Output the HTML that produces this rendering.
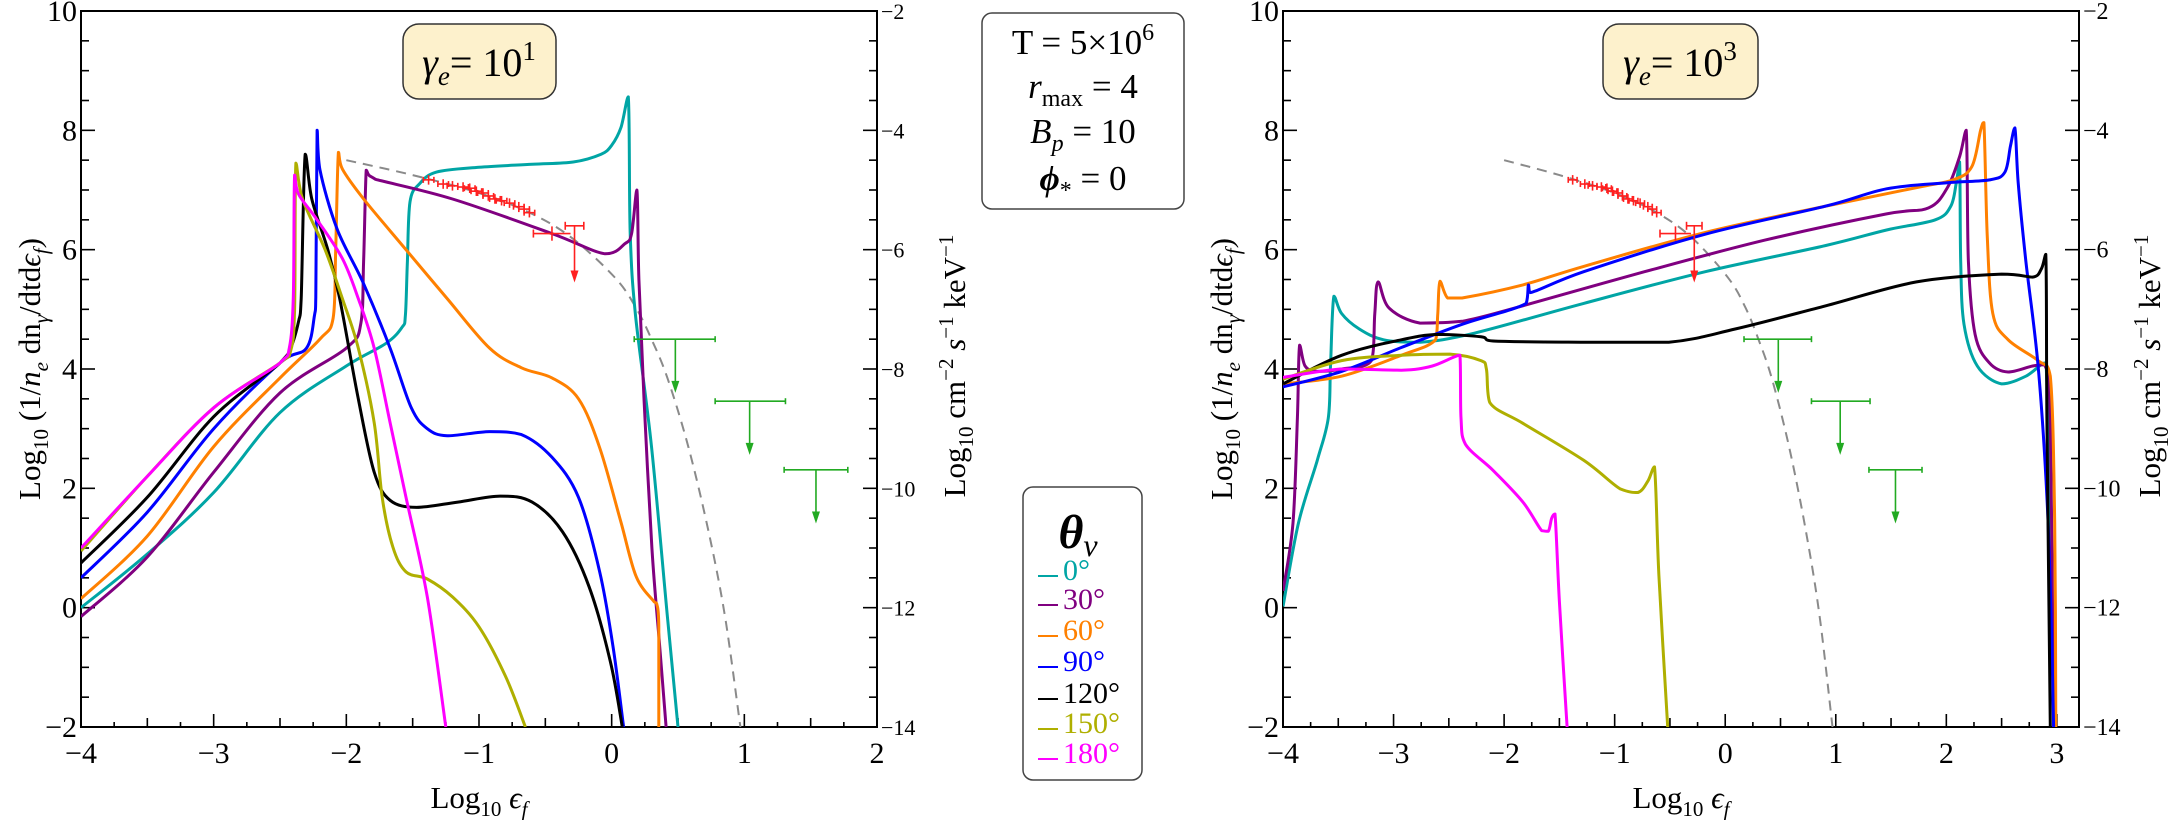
<!DOCTYPE html>
<html><head><meta charset="utf-8">
<style>
html,body{margin:0;padding:0;background:#fff;}
svg{display:block;font-family:"Liberation Serif",serif;}
</style></head>
<body>
<svg id="fig" width="2170" height="820" viewBox="0 0 2170 820" xmlns="http://www.w3.org/2000/svg">
<defs>
<clipPath id="clipL"><rect x="81" y="11" width="796" height="716"/></clipPath>
<clipPath id="clipR"><rect x="1283" y="11" width="796" height="716"/></clipPath>
</defs>
<g id="root"></g>
<g>
<text transform="translate(40,369) rotate(-90)" text-anchor="middle" font-size="31">Log<tspan font-size="21" dy="8">10</tspan><tspan dy="-8"> (1/</tspan><tspan font-style="italic">n</tspan><tspan font-size="21" font-style="italic" dy="8">e</tspan><tspan dy="-8"> dn</tspan><tspan font-size="21" font-style="italic" dy="8">γ</tspan><tspan dy="-8">/dtd</tspan><tspan font-style="italic">ϵ</tspan><tspan font-size="21" font-style="italic" dy="8">f</tspan><tspan dy="-8">)</tspan></text>
</g>
<g>
<text transform="translate(965,366) rotate(-90)" text-anchor="middle" font-size="31">Log<tspan font-size="21" dy="8">10</tspan><tspan dy="-8"> cm</tspan><tspan font-size="21" dy="-12">−2</tspan><tspan dy="12"> </tspan><tspan font-style="italic">s</tspan><tspan font-size="21" dy="-12">−1</tspan><tspan dy="12"> keV</tspan><tspan font-size="21" dy="-12">−1</tspan></text>
</g>
<g>
<text transform="translate(1232,369) rotate(-90)" text-anchor="middle" font-size="31">Log<tspan font-size="21" dy="8">10</tspan><tspan dy="-8"> (1/</tspan><tspan font-style="italic">n</tspan><tspan font-size="21" font-style="italic" dy="8">e</tspan><tspan dy="-8"> dn</tspan><tspan font-size="21" font-style="italic" dy="8">γ</tspan><tspan dy="-8">/dtd</tspan><tspan font-style="italic">ϵ</tspan><tspan font-size="21" font-style="italic" dy="8">f</tspan><tspan dy="-8">)</tspan></text>
</g>
<g>
<text transform="translate(2160,366) rotate(-90)" text-anchor="middle" font-size="31">Log<tspan font-size="21" dy="8">10</tspan><tspan dy="-8"> cm</tspan><tspan font-size="21" dy="-12">−2</tspan><tspan dy="12"> </tspan><tspan font-style="italic">s</tspan><tspan font-size="21" dy="-12">−1</tspan><tspan dy="12"> keV</tspan><tspan font-size="21" dy="-12">−1</tspan></text>
</g>
<g><text x="479" y="808" text-anchor="middle" font-size="31">Log<tspan font-size="21" dy="8">10</tspan><tspan dy="-8"> </tspan><tspan font-style="italic">ϵ</tspan><tspan font-size="21" font-style="italic" dy="8">f</tspan></text></g>
<g><text x="1681" y="808" text-anchor="middle" font-size="31">Log<tspan font-size="21" dy="8">10</tspan><tspan dy="-8"> </tspan><tspan font-style="italic">ϵ</tspan><tspan font-size="21" font-style="italic" dy="8">f</tspan></text></g>

<g>
<rect x="403" y="24" width="153" height="75" rx="16" fill="#fdf1cc" stroke="#333" stroke-width="1.5"/>
<text x="479" y="76" text-anchor="middle" font-size="40"><tspan font-style="italic">γ</tspan><tspan font-size="27" font-style="italic" dy="9">e</tspan><tspan dy="-9">= 10</tspan><tspan font-size="27" dy="-16">1</tspan></text>
</g>
<g>
<rect x="1603" y="24" width="155" height="75" rx="16" fill="#fdf1cc" stroke="#333" stroke-width="1.5"/>
<text x="1680" y="76" text-anchor="middle" font-size="40"><tspan font-style="italic">γ</tspan><tspan font-size="27" font-style="italic" dy="9">e</tspan><tspan dy="-9">= 10</tspan><tspan font-size="27" dy="-16">3</tspan></text>
</g>
<g>
<rect x="982" y="13" width="202" height="196" rx="10" fill="#fff" stroke="#444" stroke-width="1.5"/>
<text x="1083" y="54" text-anchor="middle" font-size="35">T = 5×10<tspan font-size="24" dy="-14">6</tspan></text>
<text x="1083" y="98" text-anchor="middle" font-size="35"><tspan font-style="italic">r</tspan><tspan font-size="24" dy="8">max</tspan><tspan dy="-8"> = 4</tspan></text>
<text x="1083" y="143" text-anchor="middle" font-size="35"><tspan font-style="italic">B</tspan><tspan font-size="24" font-style="italic" dy="8">p</tspan><tspan dy="-8"> = 10</tspan></text>
<text x="1083" y="190" text-anchor="middle" font-size="35"><tspan font-style="italic" font-weight="bold">ϕ</tspan><tspan font-size="24" dy="8">*</tspan><tspan dy="-8"> = 0</tspan></text>
</g>
<g id="legend">
<rect x="1023" y="487" width="119" height="293" rx="10" fill="#fff" stroke="#444" stroke-width="1.5"/>
<text x="1078" y="548" text-anchor="middle" font-size="48" font-weight="bold" font-style="italic">θ<tspan font-size="32" font-weight="normal" dy="8">v</tspan></text>
</g>
</svg>
<script>
// ---------- data ----------
const seriesNames = ["0°","30°","60°","90°","120°","150°","180°"];
const seriesColors = ["#00a5a5","#800080","#ff8000","#0000ff","#000000","#afaf00","#ff00ff"];
// left panel (gamma_e = 10^1)
const L0x=[-4,-3.5,-3,-2.5,-2,-1.7,-1.58,-1.555,-1.54,-1.52,-1.45,-1.32,-1.0,-0.6,-0.29,-0.08,0.0,0.07,0.125,0.14,0.18,0.30,0.42,0.5];
const L0y=[0,0.9,1.93,3.27,4.05,4.43,4.7,4.9,5.8,6.8,7.1,7.3,7.38,7.43,7.47,7.6,7.75,8.05,8.56,6.27,4.9,2.7,-0.15,-2];
const L1x=[-4,-3.5,-3,-2.5,-2,-1.89,-1.87,-1.85,-1.83,-1.78,-1.2,-0.45,-0.05,0.1,0.15,0.19,0.205,0.244,0.303,0.362,0.41];
const L1y=[-0.15,0.85,2.27,3.6,4.35,4.77,5.8,7.33,7.25,7.18,6.85,6.27,5.93,6.1,6.27,7.0,5.5,3.5,1.0,-0.65,-2];
const L2x=[-4,-3.5,-3,-2.5,-2.2,-2.1,-2.08,-2.06,-2.03,-1.87,-1.55,-1.24,-0.92,-0.68,-0.45,-0.25,-0.09,0.07,0.185,0.32,0.34,0.355,0.355];
const L2y=[0.15,1.2,2.7,3.85,4.5,4.85,6.0,7.63,7.35,6.85,6.0,5.18,4.35,4.02,3.85,3.5,2.68,1.43,0.52,0.1,0.06,-0.3,-2];
const L3x=[-4,-3.5,-3,-2.5,-2.3,-2.24,-2.23,-2.22,-2.2,-2.07,-1.87,-1.67,-1.51,-1.39,-1.24,-0.92,-0.68,-0.45,-0.25,-0.09,0.01,0.09];
const L3y=[0.5,1.6,3.0,4.1,4.35,4.9,5.2,8.0,7.35,6.35,5.43,4.35,3.35,3.0,2.88,2.95,2.9,2.52,1.85,0.6,-0.65,-2];
const L4x=[-4,-3.5,-3,-2.5,-2.42,-2.36,-2.34,-2.31,-2.26,-2.14,-2.05,-1.91,-1.79,-1.67,-1.47,-1.16,-0.84,-0.6,-0.37,-0.17,-0.01,0.08];
const L4y=[0.75,1.85,3.2,4.1,4.35,4.8,5.18,7.6,6.85,6.0,5.18,3.5,2.27,1.8,1.68,1.77,1.87,1.77,1.27,0.35,-0.9,-2];
const L5x=[-4,-3.5,-3,-2.5,-2.42,-2.39,-2.38,-2.33,-2.16,-2.03,-1.91,-1.79,-1.73,-1.65,-1.55,-1.39,-1.2,-1.0,-0.8,-0.65];
const L5y=[0.95,2.2,3.35,4.1,4.3,5.0,7.45,6.85,6.0,5.18,4.35,3.1,1.85,1.02,0.6,0.48,0.18,-0.32,-1.15,-2];
const L6x=[-4,-3.5,-3,-2.5,-2.43,-2.4,-2.39,-2.36,-2.22,-2.03,-1.91,-1.79,-1.67,-1.55,-1.39,-1.25];
const L6y=[1.0,2.2,3.35,4.1,4.35,5.2,7.25,6.93,6.5,5.85,5.18,4.35,3.1,1.85,0.18,-2];
// right panel (gamma_e = 10^3)
const R0x=[-4,-3.86,-3.69,-3.59,-3.57,-3.54,-3.47,-3.31,-3.09,-2.76,-2.27,-1.28,-0.18,0.91,1.46,1.9,2.04,2.09,2.12,2.13,2.16,2.28,2.5,2.72,2.89,2.91,2.95,2.98];
const R0y=[0.02,1.42,2.47,3.18,4.05,5.22,4.93,4.67,4.49,4.45,4.6,5.1,5.63,6.07,6.33,6.5,6.73,7.12,7.47,5.8,4.75,4.05,3.75,3.88,4.1,3.79,0.54,-2];
const R1x=[-4,-3.91,-3.87,-3.85,-3.8,-3.69,-3.47,-3.2,-3.17,-3.14,-3.04,-2.76,-2.38,-1.83,-0.73,0.36,1.46,1.84,2.01,2.12,2.18,2.2,2.26,2.39,2.56,2.78,2.89,2.94,2.97];
const R1y=[0.28,1.42,3.18,4.4,4.05,3.96,4.0,4.14,4.93,5.46,5.02,4.77,4.8,5.06,5.63,6.16,6.6,6.7,7.04,7.56,8.0,5.8,4.58,4.1,3.95,4.05,4.07,3.18,-2];
const R2x=[-4,-3.47,-2.93,-2.62,-2.6,-2.58,-2.51,-2.38,-1.83,-1.28,-0.18,0.91,1.73,2.06,2.23,2.31,2.34,2.37,2.42,2.56,2.83,2.94,2.98,2.99];
const R2y=[3.75,3.88,4.23,4.49,4.93,5.47,5.19,5.19,5.41,5.72,6.29,6.73,7.04,7.17,7.39,8.0,8.13,6.25,4.93,4.49,4.14,3.88,1.42,-2];
const R3x=[-4,-3.47,-2.93,-2.38,-1.8,-1.78,-1.76,-1.28,-0.18,0.91,1.46,2.01,2.39,2.53,2.58,2.62,2.65,2.72,2.83,2.91,2.95,2.97];
const R3y=[3.7,3.96,4.36,4.75,5.1,5.41,5.28,5.63,6.26,6.73,7.02,7.12,7.17,7.3,7.74,8.04,7.12,5.8,4.05,1.86,-0.33,-2];
const R4x=[-4,-3.47,-2.93,-2.6,-2.21,-2.1,-1.28,-0.51,0.09,0.91,1.73,2.5,2.78,2.86,2.9,2.91,2.94];
const R4y=[3.75,4.23,4.49,4.58,4.54,4.47,4.45,4.45,4.67,5.06,5.46,5.59,5.54,5.68,5.92,3.18,-2];
const R5x=[-4,-3.47,-2.93,-2.49,-2.21,-2.16,-2.13,-1.83,-1.28,-0.95,-0.79,-0.7,-0.64,-0.6,-0.52];
const R5y=[3.83,4.14,4.23,4.25,4.14,4.0,3.44,3.09,2.47,1.99,1.93,2.12,2.36,0.54,-2];
const R6x=[-4,-3.47,-2.93,-2.65,-2.4,-2.39,-2.35,-2.1,-1.83,-1.66,-1.6,-1.57,-1.54,-1.5,-1.43];
const R6y=[3.86,4.0,3.98,4.05,4.23,3.18,2.74,2.3,1.77,1.29,1.28,1.5,1.57,0.1,-2];
// observational data (shared by both panels)
const dashX=[-2.0,-1.5,-1.0,-0.6,-0.29,0.03,0.185,0.3,0.42,0.58,0.74,0.86,0.97];
const dashY=[7.5,7.25,6.95,6.6,6.18,5.52,5.02,4.5,3.85,2.68,1.18,-0.23,-2];
const redX=[-1.38,-1.27,-1.2,-1.12,-1.07,-1.02,-0.97,-0.93,-0.88,-0.83,-0.77,-0.7,-0.66,-0.62];
const redY=[7.17,7.1,7.07,7.05,7.03,6.98,6.95,6.9,6.85,6.82,6.78,6.72,6.68,6.62];
const bigRedX=[-0.45]; const bigRedY=[6.27];
const redLimX=[-0.28]; const redLimY=[6.4];
const greenX=[0.48,1.04,1.54];
const greenY=[4.5,3.46,2.31];
const greenLo=[0.17,0.78,1.30];
const greenHi=[0.78,1.31,1.78];
const yTicksLeft=[-2,0,2,4,6,8,10];
const yTicksRight=[-14,-12,-10,-8,-6,-4,-2];

const NS="http://www.w3.org/2000/svg";
const root=document.getElementById('root');
function mk(tag,attrs,parent){const e=document.createElementNS(NS,tag);for(const k in attrs)e.setAttribute(k,attrs[k]);(parent||root).appendChild(e);return e;}
function smoothPath(pts){
 if(pts.length<3)return 'M'+pts.map(p=>p.join(',')).join(' L');
 let d='M'+pts[0][0]+','+pts[0][1];
 const t=1/6;
 for(let i=0;i<pts.length-1;i++){
  const p0=pts[Math.max(0,i-1)],p1=pts[i],p2=pts[i+1],p3=pts[Math.min(pts.length-1,i+2)];
  let c1x=p1[0]+(p2[0]-p0[0])*t,c1y=p1[1]+(p2[1]-p0[1])*t;
  let c2x=p2[0]-(p3[0]-p1[0])*t,c2y=p2[1]-(p3[1]-p1[1])*t;
  // clamp control y within segment range to avoid overshoot
  const lo=Math.min(p1[1],p2[1]),hi=Math.max(p1[1],p2[1]);
  c1y=Math.min(hi,Math.max(lo,c1y));c2y=Math.min(hi,Math.max(lo,c2y));
  const lx=Math.min(p1[0],p2[0]),hx=Math.max(p1[0],p2[0]);
  c1x=Math.min(hx,Math.max(lx,c1x));c2x=Math.min(hx,Math.max(lx,c2x));
  d+=' C'+c1x.toFixed(1)+','+c1y.toFixed(1)+' '+c2x.toFixed(1)+','+c2y.toFixed(1)+' '+p2[0].toFixed(1)+','+p2[1].toFixed(1);
 }
 return d;
}

const panels=[
 {id:'left',x0:81,x1:877,y0:11,y1:727,xmin:-4,xmax:2,clip:'clipL',xt:[-4,-3,-2,-1,0,1,2],
  series:[[L0x,L0y],[L1x,L1y],[L2x,L2y],[L3x,L3y],[L4x,L4y],[L5x,L5y],[L6x,L6y]],rfs:22},
 {id:'right',x0:1283,x1:2079,y0:11,y1:727,xmin:-4,xmax:3.2,clip:'clipR',xt:[-4,-3,-2,-1,0,1,2,3],
  series:[[R0x,R0y],[R1x,R1y],[R2x,R2y],[R3x,R3y],[R4x,R4y],[R5x,R5y],[R6x,R6y]],rfs:24}
];
const ymin=-2,ymax=10;
panels.forEach(p=>{
 const X=v=>p.x0+(v-p.xmin)/(p.xmax-p.xmin)*(p.x1-p.x0);
 const Y=v=>p.y1-(v-ymin)/(ymax-ymin)*(p.y1-p.y0);
 const g=mk('g',{});
 
 
 const fr=mk('rect',{x:p.x0,y:p.y0,width:p.x1-p.x0,height:p.y1-p.y0,fill:'none',stroke:'#000','stroke-width':2},g);
 
 
 const xa=mk('g',{},g);
 
 
 for(let v=p.xmin;v<=p.xmax+1e-6;v+=0.25){
  const r=Math.round(v*4)/4;const isMaj=Math.abs(r-Math.round(r))<1e-6;const isHalf=Math.abs(r*2-Math.round(r*2))<1e-6;
  const L=isMaj?13:(isHalf?9:5);
  mk('line',{x1:X(r),x2:X(r),y1:p.y1,y2:p.y1-L,stroke:'#000','stroke-width':1.6},xa);
 }
 p.xt.forEach(v=>{
  const t=mk('text',{x:X(v),y:p.y1+36,'text-anchor':'middle','font-size':30},xa);
  t.textContent=(v<0?'−':'')+Math.abs(v);
  
  
 });
 const ya=mk('g',{},g);
 
 
 for(let v=ymin;v<=ymax+1e-6;v+=0.5){
  const isMaj=Math.abs(v/2-Math.round(v/2))<1e-6;const L=isMaj?14:8;
  mk('line',{x1:p.x0,x2:p.x0+L,y1:Y(v),y2:Y(v),stroke:'#000','stroke-width':1.6},ya);
  mk('line',{x1:p.x1,x2:p.x1-L,y1:Y(v),y2:Y(v),stroke:'#000','stroke-width':1.6},ya);
 }
 yTicksLeft.forEach(v=>{
  const t=mk('text',{x:p.x0-4,y:Y(v)+10,'text-anchor':'end','font-size':30},ya);
  t.textContent=(v<0?'−':'')+Math.abs(v);
  
  
 });
 const ra=mk('g',{},g);
 
 
 yTicksRight.forEach(v=>{
  const t=mk('text',{x:p.x1+4,y:Y(v+12)+8,'text-anchor':'start','font-size':p.rfs},ra);
  t.textContent=(v<0?'−':'')+Math.abs(v);
  
  
 });
 const cg=mk('g',{'clip-path':'url(#'+p.clip+')'},g);
 const d=mk('path',{d:smoothPath(dashX.map((x,i)=>[X(x),Y(dashY[i])])),fill:'none',stroke:'#8a8a8a','stroke-width':2,'stroke-dasharray':'10,7'},cg);
 
 
 p.series.forEach((s,k)=>{
  const pl=mk('path',{d:smoothPath(s[0].map((x,i)=>[X(x),Y(s[1][i])])),fill:'none',stroke:seriesColors[k],'stroke-width':3,'stroke-linejoin':'round'},cg);
  
  
 });
 const rg=mk('g',{stroke:'#ff2020','stroke-width':1.6},cg);
 
 
 redX.forEach((x,i)=>{
  const cx=X(x),cy=Y(redY[i]);
  mk('line',{x1:X(x-0.04),x2:X(x+0.04),y1:cy,y2:cy},rg);
  mk('line',{x1:cx,x2:cx,y1:Y(redY[i]+0.08),y2:Y(redY[i]-0.08)},rg);
  mk('line',{x1:X(x-0.04),x2:X(x-0.04),y1:cy-3,y2:cy+3},rg);
  mk('line',{x1:X(x+0.04),x2:X(x+0.04),y1:cy-3,y2:cy+3},rg);
 });
 bigRedX.forEach((x,i)=>{
  const cy=Y(bigRedY[i]);
  mk('line',{x1:X(x-0.14),x2:X(x+0.14),y1:cy,y2:cy},rg);
  mk('line',{x1:X(x),x2:X(x),y1:Y(bigRedY[i]+0.12),y2:Y(bigRedY[i]-0.12)},rg);
  mk('line',{x1:X(x-0.14),x2:X(x-0.14),y1:cy-4,y2:cy+4},rg);
 });
 redLimX.forEach((x,i)=>{
  const cy=Y(redLimY[i]);
  mk('line',{x1:X(x-0.07),x2:X(x+0.07),y1:cy,y2:cy},rg);
  mk('line',{x1:X(x-0.07),x2:X(x-0.07),y1:cy-4,y2:cy+4},rg);
  mk('line',{x1:X(x+0.07),x2:X(x+0.07),y1:cy-4,y2:cy+4},rg);
  mk('line',{x1:X(x),x2:X(x),y1:cy,y2:Y(redLimY[i]-0.85)},rg);
  const ay=Y(redLimY[i]-0.95);
  mk('polygon',{points:`${X(x)-4},${ay-12} ${X(x)+4},${ay-12} ${X(x)},${ay}`,fill:'#ff2020',stroke:'none'},rg);
 });
 const gg=mk('g',{stroke:'#22aa22','stroke-width':1.6},cg);
 
 
 greenX.forEach((x,i)=>{
  const cy=Y(greenY[i]);
  mk('line',{x1:X(greenLo[i]),x2:X(greenHi[i]),y1:cy,y2:cy},gg);
  mk('line',{x1:X(greenLo[i]),x2:X(greenLo[i]),y1:cy-3,y2:cy+3},gg);
  mk('line',{x1:X(greenHi[i]),x2:X(greenHi[i]),y1:cy-3,y2:cy+3},gg);
  const ay=Y(greenY[i]-0.9);
  mk('line',{x1:X(x),x2:X(x),y1:cy,y2:ay-8},gg);
  mk('polygon',{points:`${X(x)-4},${ay-12} ${X(x)+4},${ay-12} ${X(x)},${ay}`,fill:'#22aa22',stroke:'none'},gg);
 });
});
const lg=document.getElementById('legend');
const legY=[568,597,628,659,691,721,751];
seriesNames.forEach((n,k)=>{
 const e=mk('g',{},lg);
 
 
 mk('line',{x1:1038,x2:1058,y1:legY[k]+8,y2:legY[k]+8,stroke:seriesColors[k],'stroke-width':2},e);
 const t=mk('text',{x:1063,y:legY[k]+12,'font-size':30,fill:seriesColors[k]},e);
 t.textContent=n;
});
</script>
</body></html>
